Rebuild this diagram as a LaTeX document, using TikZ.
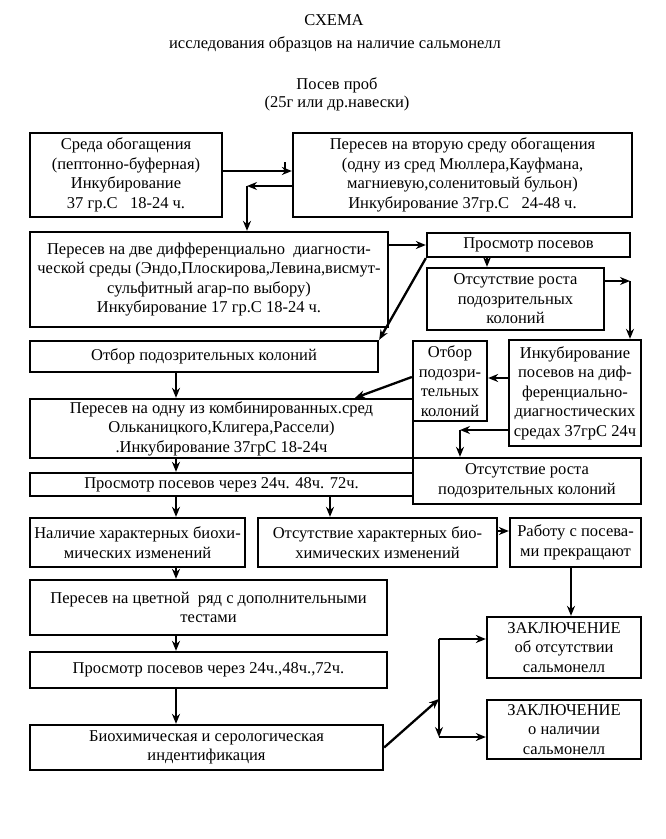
\documentclass[tikz,border=0pt]{standalone}
\usepackage{fontspec}
\setmainfont{Liberation Serif}
\usetikzlibrary{arrows.meta}
\tikzset{
  box/.style={draw, line width=2.3pt, inner sep=1pt, align=center, anchor=center,
    font=\fontsize{16.5}{19.5}\selectfont},
  arr/.style={line width=2.3pt, -{Stealth[length=10pt,width=8pt]}},
  ln/.style={line width=2.3pt},
  ttl/.style={font=\fontsize{16.5}{19}\selectfont, anchor=center}
}
\begin{document}
\begin{tikzpicture}[x=1pt,y=-1pt]
\useasboundingbox (0,0) rectangle (665,839);
% titles
\node[ttl] (t1) at (334,20) {СХЕМА};
\node[ttl] (t2) at (335,44) {исследования образцов на наличие сальмонелл};
\node[ttl] (t3) at (337,85) {Посев проб};
\node[ttl] (t4) at (337,104) {(25г или др.навески)};
% boxes
\node[box, minimum width=192pt, minimum height=84pt] (A) at (126,175)
  {Среда обогащения\\(пептонно-буферная)\\Инкубирование\\37 гр.С\ \ \ 18-24 ч.};
\node[box, minimum width=339pt, minimum height=84pt] (B) at (462.5,175)
  {Пересев на вторую среду обогащения\\(одну из сред Мюллера,Кауфмана,\\магниевую,соленитовый бульон)\\Инкубирование 37гр.С\ \ \ 24-48 ч.};
\node[box, minimum width=358pt, minimum height=95pt] (C) at (209,279.5)
  {Пересев на две дифференциально\ \ диагности-\\ческой среды (Эндо,Плоскирова,Левина,висмут-\\сульфитный агар-по выбору)\\Инкубирование 17 гр.С 18-24 ч.};
\node[box, minimum width=203pt, minimum height=24pt] (D) at (528.5,245) {Просмотр посевов};
\node[box, minimum width=177pt, minimum height=62pt] (E) at (515.5,299)
  {Отсутствие роста\\подозрительных\\колоний};
\node[box, minimum width=132pt, minimum height=106pt] (F) at (575,393)
  {Инкубирование\\посевов на диф-\\ференциально-\\диагностических\\средах 37грС 24ч};
\node[box, minimum width=74pt, minimum height=80pt] (G) at (450,381)
  {Отбор\\подозри-\\тельных\\колоний};
\node[box, minimum width=348pt, minimum height=31pt] (H) at (204,356.5)
  {Отбор подозрительных колоний};
\node[box, minimum width=383pt, minimum height=59pt] (I) at (221.5,428.5)
  {Пересев на одну из комбинированных.сред\\Ольканицкого,Клигера,Рассели)\\.Инкубирование 37грС 18-24ч};
\node[box, minimum width=383pt, minimum height=23pt] (J) at (221.5,484.5)
  {Просмотр посевов через 24ч. 48ч. 72ч.};
\node[box, minimum width=228pt, minimum height=46pt] (K) at (527,481)
  {Отсутствие роста\\подозрительных колоний};
\node[box, minimum width=215pt, minimum height=49pt] (L) at (137.5,542.5)
  {Наличие характерных биохи-\\мических изменений};
\node[box, minimum width=239pt, minimum height=49pt] (M) at (377.5,542.5)
  {Отсутствие характерных био-\\химических изменений};
\node[box, minimum width=131pt, minimum height=49pt] (N) at (575.5,542.5)
  {Работу с посева-\\ми прекращают};
\node[box, minimum width=357pt, minimum height=55pt] (O) at (208.5,607.5)
  {Пересев на цветной\ \ ряд с дополнительными\\тестами};
\node[box, minimum width=357pt, minimum height=36pt] (P) at (208.5,670)
  {Просмотр посевов через 24ч.,48ч.,72ч.};
\node[box, minimum width=353pt, minimum height=45pt] (Q) at (206.5,747.5)
  {Биохимическая и серологическая\\индентификация};
\node[box, minimum width=154pt, minimum height=61pt] (R) at (564,647.5)
  {ЗАКЛЮЧЕНИЕ\\об отсутствии\\сальмонелл};
\node[box, minimum width=154pt, minimum height=59pt] (S) at (564,729.5)
  {ЗАКЛЮЧЕНИЕ\\о наличии\\сальмонелл};
% helper coordinates
\coordinate (yab) at (0,171);
\coordinate (tk1) at (285,162);
\coordinate (tk2) at (285,171);
\coordinate (c1) at (247,186);
\coordinate (xde) at (487,0);
\coordinate (c2) at (630,281);
\coordinate (yfg) at (0,378);
\coordinate (c4) at (460,430);
\coordinate (ygi) at (0,377);
\coordinate (xgi) at (355,0);
\coordinate (xl) at (176,0);
\coordinate (xm) at (330,0);
\coordinate (ymn) at (0,531);
\coordinate (xn) at (571,0);
\coordinate (jq) at (439,699);
\coordinate (jr) at (439,639);
\coordinate (js) at (439,737);
% connectors
\draw[arr] (A.east |- yab) -- (B.west |- yab);
\draw[ln, line width=1.5pt] (tk1) -- (tk2);
\draw[arr] (B.west |- c1) -- (c1);
\draw[arr] (c1) -- (c1 |- C.north);
\draw[arr] (C.east |- D.west) -- (D.west);
\draw[arr] (xde |- D.south) -- (xde |- E.north);
\draw[arr] (E.east |- c2) -- (c2);
\draw[arr] (c2) -- (c2 |- F.north);
\draw[arr] (F.west |- yfg) -- (G.east |- yfg);
\draw[arr] (D.south west) -- (H.north east);
\draw[arr] (xl |- H.south) -- (xl |- I.north);
\draw[arr] (G.west |- ygi) -- (xgi |- I.north);
\draw[arr] (F.west |- c4) -- (c4);
\draw[arr] (c4) -- (c4 |- K.north);
\draw[arr] (xl |- I.south) -- (xl |- J.north);
\draw[arr] (xl |- J.south) -- (xl |- L.north);
\draw[arr] (xm |- J.south) -- (xm |- M.north);
\draw[arr] (M.east |- ymn) -- (N.west |- ymn);
\draw[arr] (xl |- L.south) -- (xl |- O.north);
\draw[arr] (xl |- O.south) -- (xl |- P.north);
\draw[arr] (xl |- P.south) -- (xl |- Q.north);
\draw[arr] (xn |- N.south) -- (xn |- R.north);
\draw[arr] (Q.east) -- (jq);
\draw[arr] (jr) -- (js);
\draw[arr] (jr) -- (R.west |- jr);
\draw[arr] (js) -- (S.west |- js);
\end{tikzpicture}
\end{document}
